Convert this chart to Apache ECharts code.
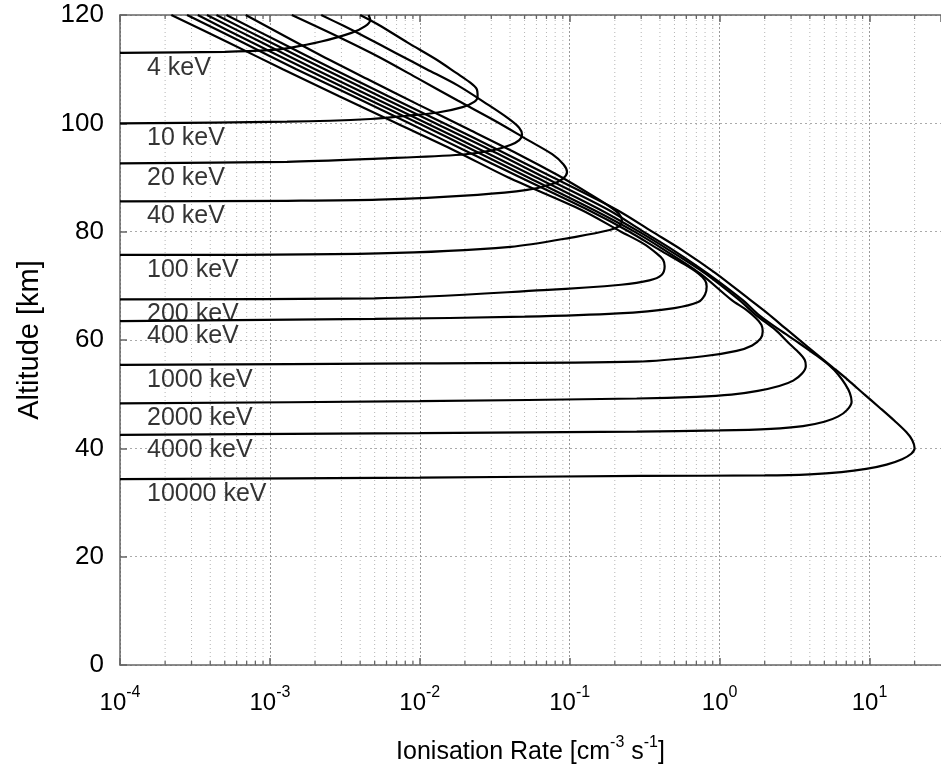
<!DOCTYPE html>
<html>
<head>
<meta charset="utf-8">
<script src="https://cdn.jsdelivr.net/npm/echarts@6.0.0/dist/echarts.min.js"></script>
<style>
	html, body { margin: 0; padding: 0; background: #fff; }
	#main { width: 941px; height: 770px; }
</style>
</head>
<body>
<div id="main"></div>
<script>
	// ionisation rate [cm-3 s-1] vs altitude [km], one profile per beam energy
	var names = ['4 keV', '10 keV', '20 keV', '40 keV', '100 keV', '200 keV', '400 keV', '1000 keV', '2000 keV', '4000 keV', '10000 keV'];

	var kev4 = [[1e-4,113.0],[5e-4,113.2],[1.0e-3,113.5],[1.33e-3,113.9],[2.2e-3,115.1],[3.5e-3,116.7],[4.3e-3,117.9],[4.67e-3,119.1],[4.55e-3,120]];
	var kev10 = [[1e-4,100.0],[1.3e-3,100.3],[4.7e-3,100.8],[8.3e-3,101.4],[0.0132,102.0],[0.0193,103.0],[0.0232,104.0],[0.0243,105.0],[0.024,106.3],[0.0215,107.6],[0.0175,109.3],[0.0132,111.6],[8.3e-3,114.9],[5.3e-3,118.2],[4.0e-3,120]];
	var kev20 = [[1e-4,92.6],[1.3e-3,92.9],[5.3e-3,93.5],[0.0188,94.2],[0.0305,95.0],[0.0402,96.0],[0.0461,96.9],[0.0481,97.9],[0.046,99.2],[0.0385,101.0],[0.0283,103.5],[0.0179,107.0],[0.0111,110.0],[6.9e-3,113.0],[4.3e-3,116.0],[3.1e-3,118.0],[2.2e-3,120]];
	var kev40 = [[1e-4,85.6],[1.3e-3,85.7],[5.3e-3,85.9],[0.0243,86.8],[0.052,87.7],[0.0764,88.8],[0.0903,89.8],[0.096,91.0],[0.091,92.4],[0.0764,94.3],[0.052,97.0],[0.033,100.2],[0.0179,104.2],[9.7e-3,108.3],[5.3e-3,112.3],[2.9e-3,115.9],[1.4e-3,120]];
	var kev100 = [[1e-4,75.7],[5.3e-3,76.0],[0.0403,77.2],[0.112,79.1],[0.185,80.3],[0.213,81.0],[0.223,82.0],[0.213,83.3],[0.177,85.0],[0.130,87.3],[0.0824,90.5],[0.0448,94.4],[0.0208,99.0],[9.7e-3,103.5],[4.6e-3,108.0],[2.1e-3,112.8],[6.9e-4,120]];
	var kev200 = [[1e-4,67.5],[5e-3,67.7],[0.067,69.2],[0.22,70.2],[0.34,71.0],[0.41,72.0],[0.43,73.6],[0.42,74.8],[0.38,76.0],[0.31,77.8],[0.22,80],[0.12,84],[0.039,90],[0.017,95],[7.0e-3,100],[2.9e-3,105],[1.22e-3,110],[5.2e-4,115],[2.2e-4,120]];
	var kev400 = [[1e-4,63.5],[5e-3,63.9],[0.05,64.3],[0.21,64.9],[0.5,65.9],[0.72,67.0],[0.8,68.4],[0.82,69.9],[0.8,71.0],[0.72,72.3],[0.58,74.0],[0.4,76.6],[0.25,80],[0.133,84],[0.047,90],[0.020,95],[8.5e-3,100],[3.6e-3,105],[1.5e-3,110],[6.5e-4,115],[2.8e-4,120]];
	var kev1000 = [[1e-4,55.4],[0.01,55.7],[0.28,56.0],[0.78,57.0],[1.3,58.0],[1.65,59.0],[1.88,60.3],[1.94,61.6],[1.9,62.8],[1.75,64.0],[1.5,65.6],[1.2,67.4],[0.74,72.3],[0.43,76.6],[0.27,80],[0.145,84],[0.053,90],[0.023,95],[9.8e-3,100],[4.1e-3,105],[1.75e-3,110],[7.5e-4,115],[3.3e-4,120]];
	var kev2000 = [[1e-4,48.3],[0.01,48.7],[0.28,49.2],[0.7,49.5],[1.2,49.9],[1.8,50.6],[2.5,51.5],[3.1,52.5],[3.55,53.8],[3.76,55.2],[3.7,56.3],[3.4,57.6],[2.9,59.4],[2.35,61.9],[1.75,64.6],[1.35,67.4],[0.8,72.3],[0.46,76.6],[0.29,80],[0.161,84],[0.060,90],[0.026,95],[0.0111,100],[4.7e-3,105],[2.0e-3,110],[8.7e-4,115],[3.8e-4,120]];
	var kev4000 = [[1e-4,42.5],[0.01,42.8],[0.28,43.1],[1.0,43.3],[2.2,43.6],[3.6,44.1],[5.0,44.9],[6.2,45.9],[7.1,47.1],[7.6,48.6],[7.4,50.2],[6.9,51.8],[6.2,53.6],[5.4,55.3],[4.4,57.2],[3.4,59.4],[2.5,61.9],[1.85,64.5],[1.42,67.4],[0.83,72.3],[0.49,76.6],[0.31,80],[0.182,84],[0.068,90],[0.030,95],[0.0127,100],[5.4e-3,105],[2.32e-3,110],[1.0e-3,115],[4.4e-4,120]];
	var kev10000 = [[1e-4,34.3],[0.01,34.6],[0.3,34.9],[2.0,35.0],[4.0,35.2],[6.5,35.6],[9.5,36.2],[13.0,37.0],[16.5,38.0],[19.0,39.0],[20.0,40.0],[19.3,41.5],[17.6,43.0],[14.8,45.0],[11.7,47.5],[9.2,50.0],[7.2,52.6],[5.6,55.1],[3.85,58.8],[2.82,61.9],[2.07,65.0],[1.6,67.4],[0.944,72.3],[0.562,76.6],[0.355,80],[0.207,84],[0.0776,90],[0.0339,95],[0.0145,100],[6.17e-3,105],[2.66e-3,110],[1.16e-3,115],[5.13e-4,120]];

	var curves = [kev4, kev10, kev20, kev40, kev100, kev200, kev400, kev1000, kev2000, kev4000, kev10000];

	var xMin = 1e-4, xMax = 30;
	var yMin = 0, yMax = 120, yStep = 20;

	// minor log ticks 2..9 x 10^n
	var minorTicks = [];
	for (var n = -4; n <= 1; n++) {
		for (var k = 2; k <= 9; k++) {
			var v = k * Math.pow(10, n);
			if (v < xMax) minorTicks.push(v);
		}
	}

	var FONT = "'Liberation Sans', Arial, Helvetica, sans-serif";
	var AXIS_COLOR = '#666';

	function logLabel(value) {
		var p = Math.round(Math.log(value) / Math.LN10);
		return '{b|10}{s|' + p + '}';
	}

	function renderMinor(params, api) {
		var v = api.value(0);
		var p0 = api.coord([v, yMin]);
		var p1 = api.coord([v, yMax]);
		return {
			type: 'group',
			children: [
				{type: 'line', shape: {x1: p0[0], y1: p0[1], x2: p1[0], y2: p1[1]},
					style: {stroke: '#b5b5b5', lineWidth: 1, lineDash: [1, 3]}},
				{type: 'line', shape: {x1: p0[0], y1: p0[1], x2: p0[0], y2: p0[1] - 4},
					style: {stroke: AXIS_COLOR, lineWidth: 1.3}},
				{type: 'line', shape: {x1: p1[0], y1: p1[1], x2: p1[0], y2: p1[1] + 4},
					style: {stroke: AXIS_COLOR, lineWidth: 1.3}}
			]
		};
	}

	var series = [];
	series.push({
		type: 'custom',
		renderItem: renderMinor,
		silent: true,
		z: 1,
		data: minorTicks.map(function(v){ return [v, yMin]; })
	});
	for (var i = 0; i < curves.length; i++) {
		series.push({
			name: names[i],
			type: 'line',
			data: curves[i],
			symbol: 'none',
			smooth: 0.3,
			z: 3,
			lineStyle: {color: '#000', width: 2.2}
		});
	}
	series.push({
		type: 'scatter',
		symbolSize: 0,
		silent: true,
		z: 4,
		data: curves.map(function(c, i){ return {value: c[0], name: names[i]}; }),
		label: {
			show: true,
			position: 'right',
			distance: 27,
			offset: [0, 15],
			formatter: '{b}',
			fontFamily: FONT,
			fontSize: 25,
			color: '#000'
		}
	});

	var chart = echarts.init(document.getElementById('main'));
	var option = {
		animation: false,
		backgroundColor: '#fff',
		grid: {left: 120, top: 15, width: 826, height: 650},
		xAxis: [{
			type: 'log',
			logBase: 10,
			min: xMin,
			max: xMax,
			position: 'bottom',
			name: '{a|Ionisation Rate [cm}{s|-3}{a| s}{s|-1}{a|]}',
			nameLocation: 'middle',
			nameGap: 70,
			nameTextStyle: {
				rich: {
					a: {fontFamily: FONT, fontSize: 25, color: '#000', lineHeight: 34},
					s: {fontFamily: FONT, fontSize: 16, color: '#000', verticalAlign: 'top', lineHeight: 16}
				}
			},
			axisLine: {show: true, lineStyle: {color: AXIS_COLOR, width: 1.5}},
			axisTick: {show: true, inside: true, length: 7, lineStyle: {color: AXIS_COLOR, width: 1.5}},
			axisLabel: {
				formatter: logLabel,
				showMaxLabel: false,
				margin: 20,
				rich: {
					b: {fontFamily: FONT, fontSize: 24, color: '#000', lineHeight: 36},
					s: {fontFamily: FONT, fontSize: 16, color: '#000', verticalAlign: 'top', lineHeight: 16}
				}
			},
			splitLine: {show: true, lineStyle: {color: '#999', width: 1, type: [2, 2]}}
		}, {
			type: 'log',
			logBase: 10,
			min: xMin,
			max: xMax,
			position: 'top',
			axisLine: {show: true, lineStyle: {color: AXIS_COLOR, width: 1.5}},
			axisTick: {show: true, inside: true, length: 7, lineStyle: {color: AXIS_COLOR, width: 1.5}},
			axisLabel: {show: false},
			splitLine: {show: false}
		}],
		yAxis: {
			type: 'value',
			min: yMin,
			max: yMax,
			interval: yStep,
			name: 'Altitude [km]',
			nameLocation: 'middle',
			nameGap: 76,
			nameTextStyle: {fontFamily: FONT, fontSize: 29, color: '#000'},
			axisLine: {show: true, lineStyle: {color: AXIS_COLOR, width: 1.5}},
			axisTick: {show: true, inside: true, length: 7, lineStyle: {color: AXIS_COLOR, width: 1.5}},
			axisLabel: {fontFamily: FONT, fontSize: 26, color: '#000', margin: 16},
			splitLine: {show: true, lineStyle: {color: '#aaa', width: 1, type: [2, 3]}}
		},
		series: series
	};
	chart.setOption(option);
</script>
</body>
</html>
